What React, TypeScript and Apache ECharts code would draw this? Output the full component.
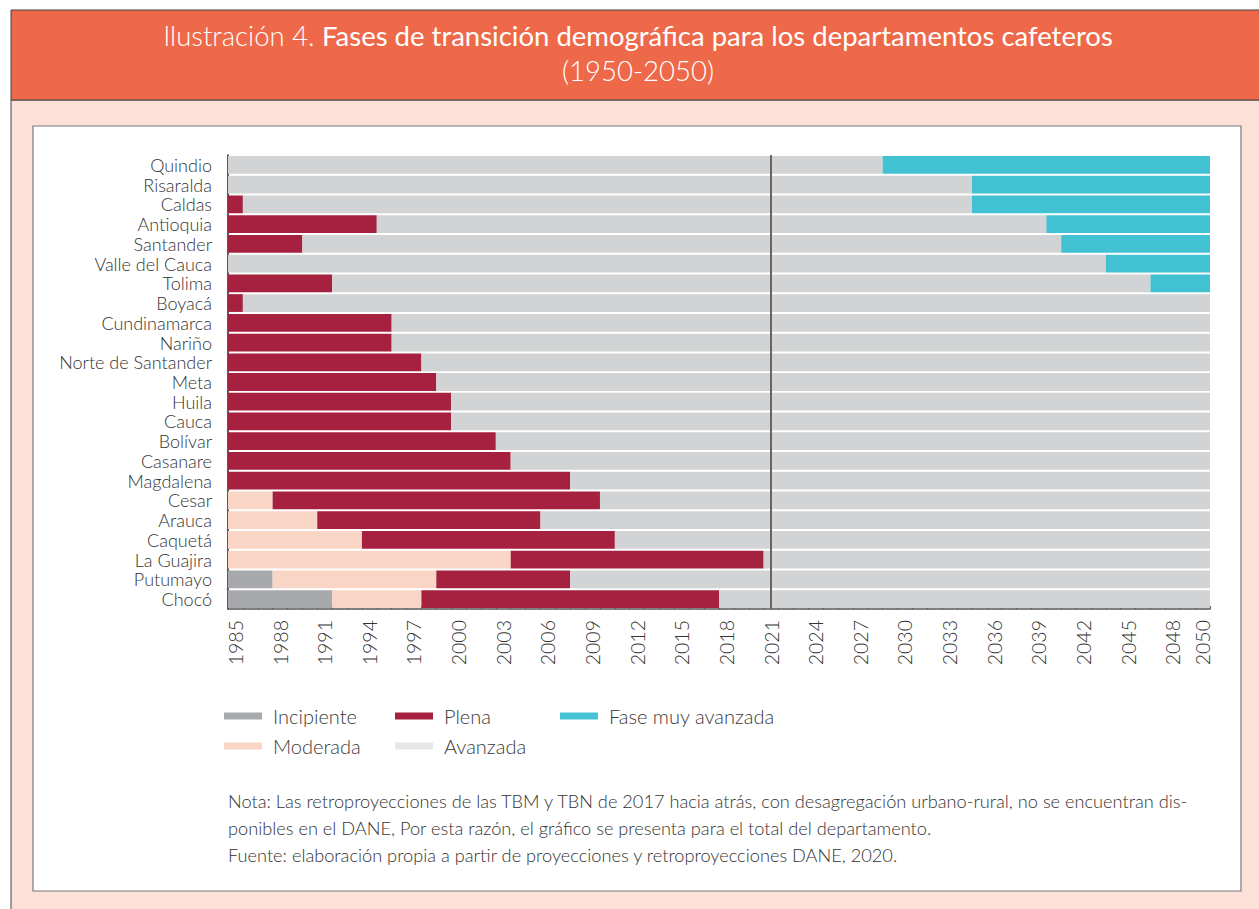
import React, { useEffect, useRef } from "react";
import * as echarts from "echarts";

const departamentos = [
  "Quindio", "Risaralda", "Caldas", "Antioquia", "Santander", "Valle del Cauca",
  "Tolima", "Boyacá", "Cundinamarca", "Nariño", "Norte de Santander", "Meta",
  "Huila", "Cauca", "Bolívar", "Casanare", "Magdalena", "Cesar", "Arauca",
  "Caquetá", "La Guajira", "Putumayo", "Chocó",
];

// years spent in each phase, starting in 1985 (sum = 66 years, 1985-2050)
const incipiente = [0, 0, 0, 0, 0, 0, 0, 0, 0, 0, 0, 0, 0, 0, 0, 0, 0, 0, 0, 0, 0, 3, 7];
const moderada = [0, 0, 0, 0, 0, 0, 0, 0, 0, 0, 0, 0, 0, 0, 0, 0, 0, 3, 6, 9, 19, 11, 6];
const plena = [0, 0, 1, 10, 5, 0, 7, 1, 11, 11, 13, 14, 15, 15, 18, 19, 23, 22, 15, 17, 17, 9, 20];
const avanzada = [44, 50, 49, 45, 51, 59, 55, 65, 55, 55, 53, 52, 51, 51, 48, 47, 43, 41, 45, 40, 30, 43, 33];
const muyAvanzada = [22, 16, 16, 11, 10, 7, 4, 0, 0, 0, 0, 0, 0, 0, 0, 0, 0, 0, 0, 0, 0, 0, 0];

const firstYear = 1985;
const lastYear = 2050;
const years: string[] = [];
for (let y = firstYear; y <= lastYear; y++) years.push(String(y));
const markYear = 2021;

const FONT = "Lato";

export default function App() {
  const ref = useRef<HTMLDivElement>(null);
  useEffect(() => {
    if (!ref.current) return;
    const chart = echarts.init(ref.current, null, { renderer: "svg" });
    const span = years.length;
    const legendItem = (name: string, color: string, left: number, top: number) => ({
      show: true,
      left,
      top,
      padding: 0,
      icon: "rect",
      itemWidth: 38,
      itemHeight: 7,
      itemGap: 0,
      selectedMode: false,
      textStyle: { fontFamily: FONT, fontSize: 20, color: "#3a3a3a", fontWeight: 300, padding: [0, 0, 0, 6] },
      data: [{ name, itemStyle: { color } }],
    });
    const note = (text: string, y: number) => ({
      type: "text",
      z: 10,
      style: { x: 228, y, verticalAlign: "middle", text, fontFamily: FONT, fontSize: 18.2, fontWeight: 300, fill: "#333" },
    });
    const base = {
      type: "bar",
      stack: "total",
      barCategoryGap: "10%",
      xAxisIndex: 0,
      yAxisIndex: 0,
      emphasis: { disabled: true },
    };
    chart.setOption({
      animation: false,
      graphic: [
        { type: "rect", z: -10, shape: { x: 11, y: 100, width: 1260, height: 820 }, style: { fill: "#FDE0D8", stroke: "#444", lineWidth: 1 } },
        { type: "rect", z: -10, shape: { x: 11, y: 10, width: 1260, height: 90 }, style: { fill: "#EE6949", stroke: "#444", lineWidth: 1 } },
        { type: "rect", z: -9, shape: { x: 33, y: 126, width: 1208, height: 765 }, style: { fill: "#ffffff", stroke: "#7a7a7a", lineWidth: 1.2 } },
        {
          type: "text",
          z: 10,
          style: {
            x: 638,
            y: 35,
            align: "center",
            verticalAlign: "middle",
            text: "{a|Ilustración 4. }{b|Fases de transición demográfica para los departamentos cafeteros}",
            rich: {
              a: { fontFamily: FONT, fontSize: 27.5, fontWeight: 300, fill: "#ffffff" },
              b: { fontFamily: FONT, fontSize: 27.5, fontWeight: "normal", fill: "#ffffff" },
            },
          },
        },
        {
          type: "text",
          z: 10,
          style: {
            x: 638,
            y: 70,
            align: "center",
            verticalAlign: "middle",
            text: "(1950-2050)",
            fontFamily: FONT,
            fontSize: 27.5,
            fontWeight: 300,
            fill: "#ffffff",
          },
        },
        note("Nota: Las retroproyecciones de las TBM y TBN de 2017 hacia atrás, con desagregación urbano-rural, no se encuentran dis-", 801),
        note("ponibles en el DANE, Por esta razón, el gráfico se presenta para el total del departamento.", 828),
        note("Fuente: elaboración propia a partir de proyecciones y retroproyecciones DANE, 2020.", 855),
      ],
      legend: [
        legendItem("Incipiente", "#A7A9AC", 224, 706),
        legendItem("Plena", "#A6203F", 395, 706),
        legendItem("Fase muy avanzada", "#45C3D4", 560, 706),
        legendItem("Moderada", "#FBD5C5", 224, 736),
        legendItem("Avanzada", "#E6E7E8", 395, 736),
      ],
      grid: { left: 228, right: 49, top: 155, bottom: 300, containLabel: false },
      xAxis: [
        { type: "value", min: 0, max: span, show: false },
        {
          type: "category",
          data: years,
          position: "bottom",
          boundaryGap: true,
          axisLine: { show: true, lineStyle: { color: "#555", width: 1.5 } },
          axisTick: { show: true, inside: true, length: 3, interval: 0, lineStyle: { color: "#555" } },
          axisLabel: {
            rotate: 90,
            margin: 11,
            interval: (i: number) => i % 3 === 0 || i === years.length - 1,
            fontFamily: FONT,
            fontSize: 19.5,
            fontWeight: 300,
            color: "#333",
          },
          splitLine: { show: false },
        },
      ],
      yAxis: {
        type: "category",
        data: departamentos,
        inverse: true,
        axisLine: { show: true, lineStyle: { color: "#222", width: 1.5 } },
        axisTick: { show: false },
        axisLabel: { interval: 0, fontFamily: FONT, fontSize: 18, fontWeight: 300, color: "#333", margin: 16, padding: [0, 0, 3, 0] },
      },
      series: [
        { ...base, name: "Incipiente", data: incipiente, itemStyle: { color: "#A7A9AC" } },
        { ...base, name: "Moderada", data: moderada, itemStyle: { color: "#F9D5C6" } },
        { ...base, name: "Plena", data: plena, itemStyle: { color: "#A6203F" } },
        {
          ...base,
          name: "Avanzada",
          data: avanzada,
          itemStyle: { color: "#D1D3D4" },
          markLine: {
            silent: true,
            symbol: "none",
            label: { show: false },
            lineStyle: { color: "#666", width: 2, type: "solid" },
            data: [{ xAxis: markYear - firstYear + 0.5 }],
          },
        },
        { ...base, name: "Fase muy avanzada", data: muyAvanzada, itemStyle: { color: "#41C1D2" } },
      ],
    });
    return () => chart.dispose();
  }, []);
  return <div ref={ref} style={{ position: "absolute", left: 0, top: 0, width: 1259, height: 909 }} />;
}
